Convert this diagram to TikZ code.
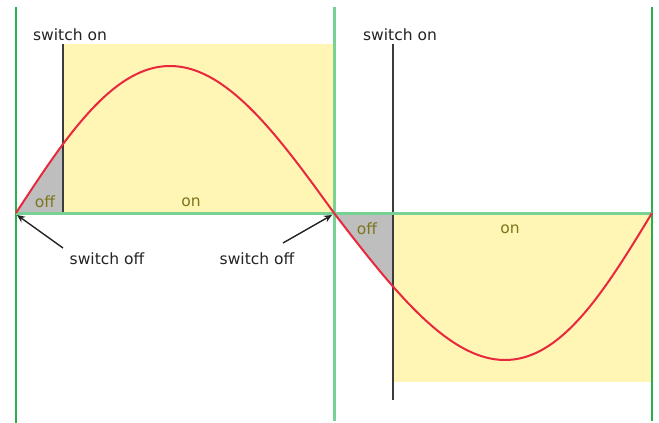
\documentclass[tikz,border=0pt]{standalone}
\usepackage{fontspec}
\setmainfont{DejaVu Sans}
\usetikzlibrary{arrows.meta}
\definecolor{yel}{RGB}{255,245,180}
\definecolor{grayfill}{RGB}{190,190,190}
\definecolor{dkgreen}{RGB}{40,175,80}
\definecolor{ltgreen}{RGB}{120,210,150}
\definecolor{redc}{RGB}{232,40,60}
\definecolor{olive}{RGB}{125,118,30}
\definecolor{txt}{RGB}{35,35,35}
\definecolor{swline}{RGB}{60,60,60}
\tikzset{
  lbl/.style={font=\fontsize{15.5}{18}\selectfont, text=txt, inner sep=0pt},
  state/.style={font=\fontsize{15.5}{18}\selectfont, text=olive, inner sep=0pt},
  swl/.style={draw=swline, line width=1.6pt},
  arr/.style={draw=txt, line width=1.4pt, -{Stealth[length=8pt,width=7pt]}},
  wave/.style={draw=redc, line width=2pt},
}
\begin{document}
\begin{tikzpicture}[x=1pt,y=-1pt]
\useasboundingbox (0,0) rectangle (659,423);
% yellow "on" regions
\fill[yel] (63,44) rectangle (334,213);
\fill[yel] (393,213) rectangle (652,382);
% gray "off" regions
\begin{scope}
  \clip (16,100) rectangle (63,213);
  \fill[grayfill] plot[domain=0:60, samples=40, variable=\t] ({16+1.76667*\t-5*sin(\t)},{213-147*sin(\t)}) -- (63,213) -- cycle;
\end{scope}
\begin{scope}
  \clip (334,213) rectangle (393,330);
  \fill[grayfill] plot[domain=0:60, samples=40, variable=\t] ({334+1.76667*\t+12*sin(\t)},{213+147*sin(\t)}) -- (393,213) -- cycle;
\end{scope}
% switch-on lines
\coordinate (s1t) at (63,44); \coordinate (s1b) at (63,213);
\coordinate (s2t) at (393,44); \coordinate (s2b) at (393,400);
\draw[swl] (s1t) -- (s1b);
\draw[swl] (s2t) -- (s2b);
% green lines
\draw[dkgreen, line width=2pt] (16,7) -- (16,423);
\draw[ltgreen, line width=3pt] (334,7) -- (334,421);
\draw[dkgreen, line width=2pt] (652,7) -- (652,421);
\draw[ltgreen, line width=3pt] (16,213) -- (652,213);
% wave
\draw[wave] plot[domain=0:180, samples=120, variable=\t] ({16+1.76667*\t-5*sin(\t)},{213-147*sin(\t)});
\draw[wave] plot[domain=0:180, samples=120, variable=\t] ({334+1.76667*\t+12*sin(\t)},{213+147*sin(\t)});
% labels
\node[lbl] (on1) at (70,35) {switch on};
\node[lbl] (on2) at (400,35) {switch on};
\node[state] (off1) at (45,202) {off};
\node[state] (onr1) at (191,202) {on};
\node[state] (off2) at (367,229) {off};
\node[state] (onr2) at (510,229) {on};
\node[lbl] (sw1) at (107,259) {switch off};
\node[lbl] (sw2) at (257,259) {switch off};
% arrows
\coordinate (a1) at (63,248); \coordinate (z1) at (17,215);
\coordinate (a2) at (283,243); \coordinate (z2) at (332,215);
\draw[arr] (a1) -- (z1);
\draw[arr] (a2) -- (z2);
\end{tikzpicture}
\end{document}
